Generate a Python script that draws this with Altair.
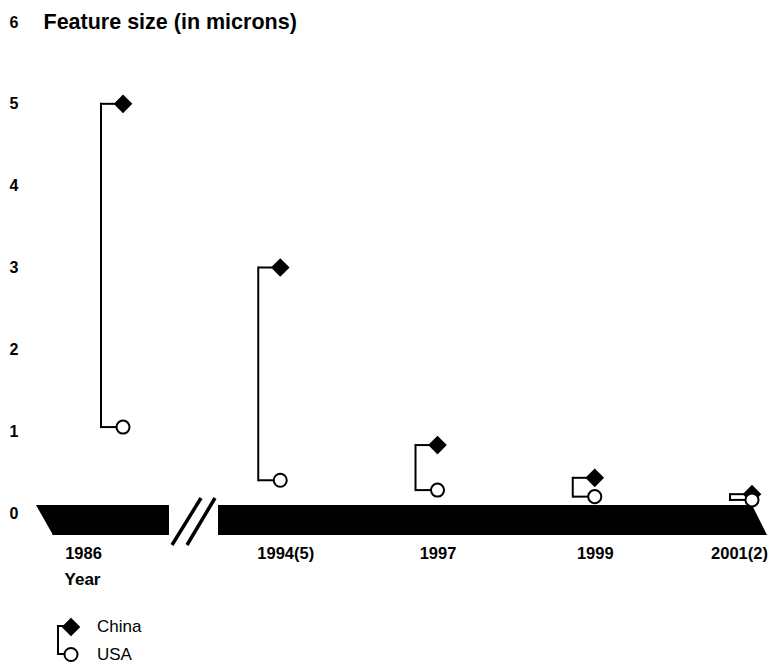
import altair as alt
import pandas as pd

# ---- data ----
years = ["1986", "1994(5)", "1997", "1999", "2001(2)"]
china = [5.0, 3.0, 0.83, 0.43, 0.23]
usa = [1.05, 0.40, 0.28, 0.20, 0.16]
series = ["China", "USA"]
y_ticks = [0, 1, 2, 3, 4, 5, 6]

wide = pd.DataFrame({"year": years, "China": china, "USA": usa})
long = wide.melt(id_vars="year", var_name="country", value_name="size")
one = pd.DataFrame({"k": [0]})

FONT = "Liberation Sans"
W, H = 740, 491
BR = 22  # bracket offset (px)

xscale = alt.Scale(type="point", domain=years, range=[93, 722], padding=0)
yscale = alt.Scale(domain=[0, 6], nice=False, zero=True)

xaxis = alt.Axis(
    title="Year", labelAngle=0, labelFont=FONT, labelFontSize=16.5, labelFontWeight="bold",
    labelColor="black", labelPadding=45, labelBaseline="alphabetic",
    labelOffset={"condition": [
        {"test": "datum.value === '1986'", "value": -40},
        {"test": "datum.value === '1994(5)'", "value": 5},
        {"test": "datum.value === '2001(2)'", "value": -13},
    ], "value": 0},
    ticks=False, tickSize=0, domain=False, grid=False,
    titleFont=FONT, titleFontSize=17, titleFontWeight="bold", titleColor="black",
    titleX=52, titleY=71, titleAlign="center", titleBaseline="alphabetic",
)
yaxis = alt.Axis(
    title="Feature size (in microns)", values=y_ticks, format="d",
    labelFont=FONT, labelFontSize=16, labelFontWeight="bold", labelColor="black",
    labelPadding=12, ticks=False, tickSize=0, domain=False, grid=False,
    titleAngle=0, titleAlign="left", titleBaseline="middle", titleX=13, titleY=0,
    titleFont=FONT, titleFontSize=21.5, titleFontWeight="bold", titleColor="black",
)

X = alt.X("year:O", scale=xscale, axis=xaxis, sort=years)

# ---- timeline bar (decoration) ----
deco = alt.Chart(one)
bar_left = deco.mark_rect(color="black").encode(
    x=alt.value(22.5), x2=alt.value(139), y=alt.value(483), y2=alt.value(513))
bar_right = deco.mark_rect(color="black").encode(
    x=alt.value(188), x2=alt.value(722.5), y=alt.value(483), y2=alt.value(513))
tri_left = deco.mark_point(shape="M-0.567,-1L0.567,-1L0.567,1Z", size=900, filled=True,
                           color="black", opacity=1, strokeWidth=0).encode(
    x=alt.value(14.5), y=alt.value(498))
tri_right = deco.mark_point(shape="M-0.5,-1L-0.5,1L0.5,1Z", size=900, filled=True,
                            color="black", opacity=1, strokeWidth=0).encode(
    x=alt.value(729.5), y=alt.value(498))
brk1 = deco.mark_rule(color="black", strokeWidth=3.5).encode(
    x=alt.value(142), y=alt.value(523), x2=alt.value(171), y2=alt.value(476))
brk2 = deco.mark_rule(color="black", strokeWidth=3.5).encode(
    x=alt.value(157), y=alt.value(523), x2=alt.value(185), y2=alt.value(476))

# legend bracket (decoration)
leg_v = deco.mark_rule(color="black", strokeWidth=2, strokeCap="square").encode(
    x=alt.value(28), y=alt.value(604), y2=alt.value(632))
leg_h1 = deco.mark_rule(color="black", strokeWidth=2).encode(
    x=alt.value(28), x2=alt.value(41), y=alt.value(604))
leg_h2 = deco.mark_rule(color="black", strokeWidth=2).encode(
    x=alt.value(28), x2=alt.value(41), y=alt.value(632))

# ---- brackets ----
bw = alt.Chart(wide)
br_v = bw.mark_rule(color="black", strokeWidth=2, strokeCap="square", xOffset=-BR).encode(
    x=X, y=alt.Y("China:Q", scale=yscale, axis=yaxis), y2="USA:Q")
br_top = bw.mark_rule(color="black", strokeWidth=2, xOffset=-BR).encode(
    x=X, x2=alt.X2("year"), y=alt.Y("China:Q", scale=yscale, axis=yaxis))
br_bot = bw.mark_rule(color="black", strokeWidth=2, xOffset=-BR).encode(
    x=X, x2=alt.X2("year"), y=alt.Y("USA:Q", scale=yscale, axis=yaxis))

# ---- points ----
legend = alt.Legend(title=None, orient="none", legendX=32, legendY=596, direction="vertical",
                    labelFont=FONT, labelFontSize=17, labelColor="black", labelOffset=17,
                    rowPadding=4, symbolStrokeColor="black", symbolStrokeWidth=2, padding=0)
pts = alt.Chart(long).mark_point(filled=True, opacity=1, strokeWidth=2).encode(
    x=X,
    y=alt.Y("size:Q", scale=yscale, axis=yaxis),
    shape=alt.Shape("country:N", scale=alt.Scale(domain=series, range=["diamond", "circle"]), legend=legend),
    fill=alt.Fill("country:N", scale=alt.Scale(domain=series, range=["black", "white"]), legend=legend),
    stroke=alt.Stroke("country:N", scale=alt.Scale(domain=series, range=["black", "black"]), legend=legend),
    size=alt.Size("country:N", scale=alt.Scale(domain=series, range=[250, 170]), legend=legend),
)

chart = alt.layer(
    bar_left, bar_right, tri_left, tri_right, brk1, brk2,
    leg_v, leg_h1, leg_h2,
    br_v, br_top, br_bot, pts,
).properties(
    width=W, height=H,
    autosize=alt.AutoSizeParams(type="none"),
    padding={"left": 22, "top": 14, "right": 0, "bottom": 151},
    background="white",
).configure_view(stroke=None)

chart.save("out.html", embed_options={"renderer": "svg", "actions": False})
